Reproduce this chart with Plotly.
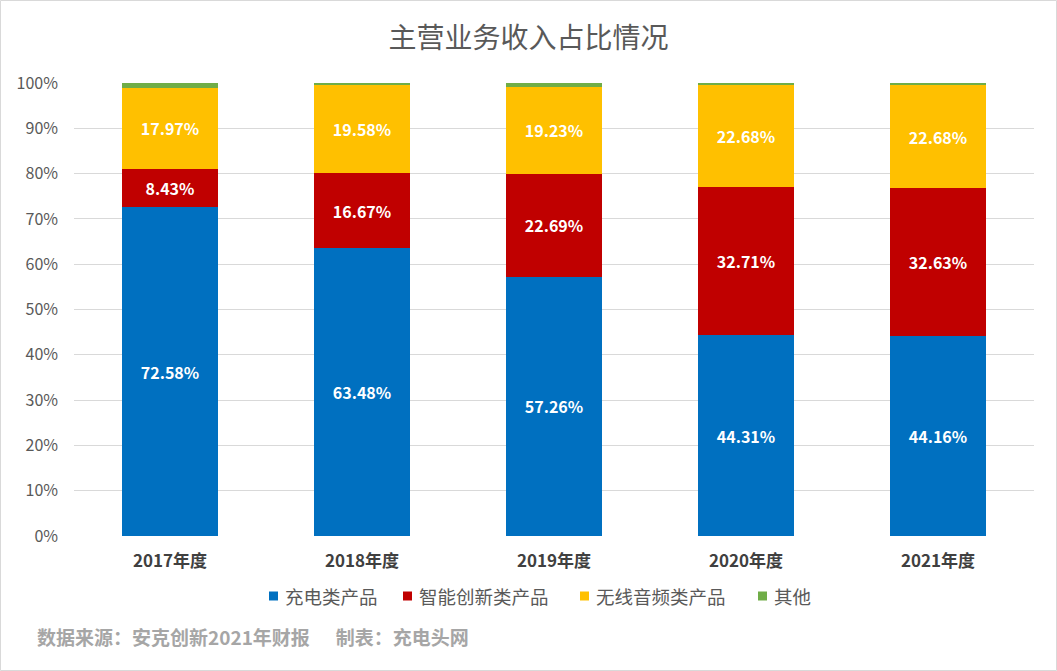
import plotly.graph_objects as go

categories = ["2017年度", "2018年度", "2019年度", "2020年度", "2021年度"]
charging = [72.58, 63.48, 57.26, 44.31, 44.16]
smart = [8.43, 16.67, 22.69, 32.71, 32.63]
audio = [17.97, 19.58, 19.23, 22.68, 22.68]
other = [1.02, 0.27, 0.82, 0.30, 0.53]

series = [
    ("充电类产品", charging, "#0070C0", True),
    ("智能创新类产品", smart, "#C00000", True),
    ("无线音频类产品", audio, "#FFC000", True),
    ("其他", other, "#70AD47", False),
]
# legend square left edges (page px)
legend_x = [269, 403, 580, 758]

FONT = "Noto Sans CJK SC"
W, H = 1057, 671
L, R, T, B = 74, 23, 83, 135
pw, ph = W - L - R, H - T - B

fig = go.Figure()
shapes = [dict(type="rect", xref="paper", yref="paper",
               x0=(0.5 - L) / pw, x1=(W - 0.5 - L) / pw,
               y0=-(H - 0.5 - T - ph) / ph, y1=1 + (T - 0.5) / ph,
               line=dict(color="#D9D9D9", width=1), layer="below")]
annotations = []
ly = 596
for (name, vals, color, lab), lx in zip(series, legend_x):
    fig.add_trace(go.Bar(
        x=categories, y=[v / 100 for v in vals], name=name, showlegend=False,
        marker=dict(color=color, line=dict(width=0)),
        text=[f"{v:.2f}%" for v in vals] if lab else None,
        textposition="inside" if lab else "none",
        insidetextanchor="middle", textangle=0, constraintext="none",
        textfont=dict(color="white", size=16, family=FONT, weight="bold"),
        hoverinfo="skip",
    ))
    shapes.append(dict(type="rect", xref="paper", yref="paper",
                       x0=(lx - L) / pw, x1=(lx + 9 - L) / pw,
                       y0=-(ly + 4.5 - T - ph) / ph, y1=-(ly - 4.5 - T - ph) / ph,
                       fillcolor=color, line=dict(width=0)))
    annotations.append(dict(text=name, xref="paper", yref="paper",
                            x=(lx + 14 - L) / pw, y=-(ly - T - ph) / ph,
                            xanchor="left", yanchor="middle", showarrow=False,
                            font=dict(size=18.5, color="#595959", family=FONT)))

annotations.append(dict(text="数据来源：安克创新2021年财报&nbsp;&nbsp;&nbsp;&nbsp;&nbsp;&nbsp;制表：充电头网",
                        xref="paper", yref="paper", x=(35 - L) / pw, y=-(636 - T - ph) / ph,
                        xanchor="left", yanchor="middle", showarrow=False,
                        font=dict(size=19, color="#A6A6A6", family=FONT, weight="bold")))

fig.update_layout(
    width=W, height=H, barmode="stack", bargap=0.5,
    margin=dict(l=L, r=R, t=T, b=B),
    paper_bgcolor="white", plot_bgcolor="white",
    font=dict(family=FONT, color="#595959"),
    title=dict(text="主营业务收入占比情况", x=0.5, xref="container", xanchor="center",
               y=1 - 38 / H, yanchor="middle", font=dict(size=28, color="#595959", family=FONT)),
    showlegend=False,
    yaxis=dict(range=[0, 1], tickvals=[i / 10 for i in range(11)], tickformat=".0%",
               showgrid=True, gridcolor="#D9D9D9", gridwidth=1, zeroline=False,
               tickfont=dict(size=16, color="#595959", family=FONT), ticklabelstandoff=15,
               fixedrange=True),
    xaxis=dict(showgrid=False, showline=False, ticklabelstandoff=13,
               tickfont=dict(size=17, color="#404040", family=FONT, weight="bold"),
               fixedrange=True),
    annotations=annotations,
    shapes=shapes,
)
fig.write_html("out.html", config={"displayModeBar": False},
               post_script="document.body.style.margin='0';")
